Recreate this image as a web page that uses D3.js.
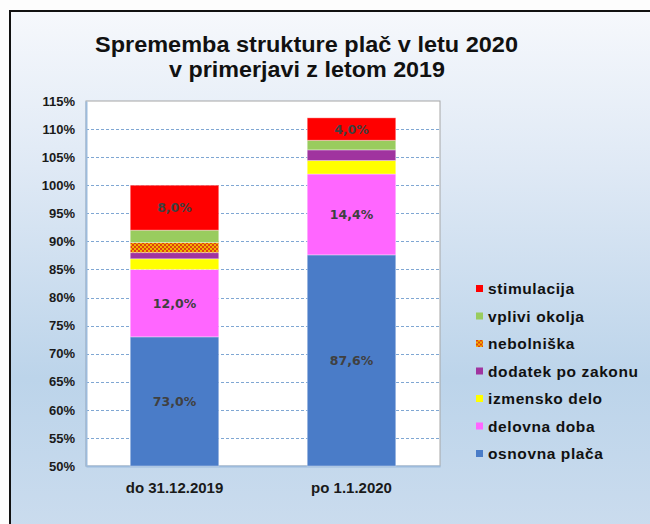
<!DOCTYPE html>
<html lang="sl">
<head>
<meta charset="UTF-8">
<title>Sprememba strukture plač</title>
<script src="https://d3js.org/d3.v7.min.js"></script>
<style>
  body { margin: 0; background: #fff; font-family: "Liberation Sans", Arial, sans-serif; }
  .tick text { font-weight: bold; font-size: 13px; fill: #1a1a1a; }
  .bar-label { font-family: "DejaVu Sans", Verdana, sans-serif; font-weight: bold; font-size: 12.5px; fill: #404040; }
  .legend text { font-weight: bold; font-size: 15.5px; fill: #111; letter-spacing: 0.6px; }
</style>
</head>
<body>
<div id="chart"></div>
<script>
// data
const categories = ["do 31.12.2019", "po 1.1.2020"];
const seriesNames = ["osnovna plača", "delovna doba", "izmensko delo", "dodatek po zakonu", "nebolniška", "vplivi okolja", "stimulacija"];
const osnovnaPlaca = [73.0, 87.6];
const delovnaDoba = [12.0, 14.4];
const izmenskoDelo = [1.9, 2.4];
const dodatekPoZakonu = [1.1, 1.9];
const nebolniska = [1.8, 0];
const vpliviOkolja = [2.2, 1.7];
const stimulacija = [8.0, 4.0];
const yTicks = [50, 55, 60, 65, 70, 75, 80, 85, 90, 95, 100, 105, 110, 115];
const labelledSeries = ["osnovna plača", "delovna doba", "stimulacija"];

const seriesValues = [osnovnaPlaca, delovnaDoba, izmenskoDelo, dodatekPoZakonu, nebolniska, vpliviOkolja, stimulacija];
const colors = ["#4a7cc8", "#ff66ff", "#ffff00", "#a0349f", "url(#checker)", "#99cc5e", "#ff0000"];

const width = 650, height = 524;
const plot = { left: 86, right: 440, top: 101, bottom: 466 };

const rows = categories.map((c, i) => {
  const r = { cat: c };
  seriesNames.forEach((s, j) => r[s] = seriesValues[j][i]);
  return r;
});

const svg = d3.select("#chart").append("svg")
  .attr("width", width).attr("height", height);

const defs = svg.append("defs");
const grad = defs.append("linearGradient").attr("id", "bg")
  .attr("x1", 0).attr("y1", 0).attr("x2", 0).attr("y2", 1);
grad.append("stop").attr("offset", "0%").attr("stop-color", "#f6f8fc");
grad.append("stop").attr("offset", "30%").attr("stop-color", "#dfe9f5");
grad.append("stop").attr("offset", "70%").attr("stop-color", "#bcd4ea");
grad.append("stop").attr("offset", "100%").attr("stop-color", "#cbdcee");

// checker pattern for "nebolniška"
const pat = defs.append("pattern").attr("id", "checker")
  .attr("width", 4).attr("height", 4).attr("patternUnits", "userSpaceOnUse");
pat.append("rect").attr("width", 4).attr("height", 4).attr("fill", "#f0b400");
pat.append("rect").attr("width", 2).attr("height", 2).attr("fill", "#e04010");
pat.append("rect").attr("x", 2).attr("y", 2).attr("width", 2).attr("height", 2).attr("fill", "#e04010");

// frame
svg.append("rect").attr("x", 0).attr("y", 0).attr("width", width).attr("height", height).attr("fill", "#fdfdfd");
svg.append("rect").attr("x", 10).attr("y", 11).attr("width", width).attr("height", height)
  .attr("fill", "url(#bg)");
svg.append("path").attr("d", `M10,${height} V11 H${width}`)
  .attr("fill", "none").attr("stroke", "#111").attr("stroke-width", 2);

// title
const title = svg.append("g").style("font-weight", "bold").style("font-size", "22px").attr("fill", "#111");
title.append("text").attr("x", 306.5).attr("y", 51.5).attr("text-anchor", "middle")
  .attr("textLength", 423).attr("lengthAdjust", "spacingAndGlyphs")
  .text("Sprememba strukture plač v letu 2020");
title.append("text").attr("x", 307).attr("y", 76.5).attr("text-anchor", "middle")
  .attr("textLength", 276).attr("lengthAdjust", "spacingAndGlyphs")
  .text("v primerjavi z letom 2019");

const x = d3.scaleBand().domain(categories)
  .range([plot.left, plot.right]).paddingInner(0.5).paddingOuter(0.25);
const y = d3.scaleLinear().domain([50, 115]).range([plot.bottom, plot.top]).clamp(true);

// plot area
svg.append("rect").attr("x", plot.left).attr("y", plot.top)
  .attr("width", plot.right - plot.left).attr("height", plot.bottom - plot.top)
  .attr("fill", "#fff").attr("stroke", "#a6a6a6");

// grid
svg.append("g").selectAll("line")
  .data(yTicks.filter(t => t > 50 && t < 115))
  .join("line")
  .attr("x1", plot.left).attr("x2", plot.right)
  .attr("y1", d => Math.round(y(d)) + 0.5).attr("y2", d => Math.round(y(d)) + 0.5)
  .attr("stroke", "#7fa7d3").attr("stroke-dasharray", "3,2");

// y axis
const yAxis = svg.append("g").attr("transform", `translate(${plot.left},0)`)
  .call(d3.axisLeft(y).tickValues(yTicks).tickFormat(d => d + "%").tickSize(0).tickPadding(11));
yAxis.select(".domain").attr("stroke", "#9dbbdc").attr("stroke-width", 2);

// x axis labels
svg.append("g").attr("transform", `translate(0,${plot.bottom})`)
  .call(d3.axisBottom(x).tickSize(0).tickPadding(16))
  .call(g => g.select(".domain").attr("stroke", "#9dbbdc").attr("stroke-width", 2))
  .selectAll("text").style("font-size", "15px");

// bars
const stack = d3.stack().keys(seriesNames)(rows);
const layers = svg.append("g").selectAll("g").data(stack).join("g")
  .attr("fill", (d, i) => colors[i]);
layers.selectAll("rect").data(d => d.filter(p => p[1] > p[0]))
  .join("rect")
  .attr("x", d => x(d.data.cat))
  .attr("width", x.bandwidth())
  .attr("y", d => y(d[1]))
  .attr("height", d => y(d[0]) - y(d[1]))
  .attr("stroke", "rgba(255,255,255,0.35)").attr("stroke-width", 1);

// value labels
stack.filter(s => labelledSeries.includes(s.key)).forEach(s => {
  svg.append("g").selectAll("text").data(s).join("text")
    .attr("class", "bar-label")
    .attr("x", d => x(d.data.cat) + x.bandwidth() / 2)
    .attr("y", d => (y(d[0]) + y(d[1])) / 2)
    .attr("dy", "0.36em")
    .attr("text-anchor", "middle")
    .text(d => (d[1] - d[0]).toFixed(1).replace(".", ",") + "%");
});

// legend
const legendItems = seriesNames.map((s, i) => ({ name: s, color: colors[i] })).reverse();
const legend = svg.append("g").attr("class", "legend")
  .selectAll("g").data(legendItems).join("g")
  .attr("transform", (d, i) => `translate(476,${288.5 + i * 27.5})`);
legend.append("rect").attr("x", 0).attr("y", -3.5).attr("width", 7).attr("height", 7)
  .attr("fill", d => d.color);
legend.append("text").attr("x", 12).attr("dy", "0.36em").text(d => d.name);
</script>
</body>
</html>
